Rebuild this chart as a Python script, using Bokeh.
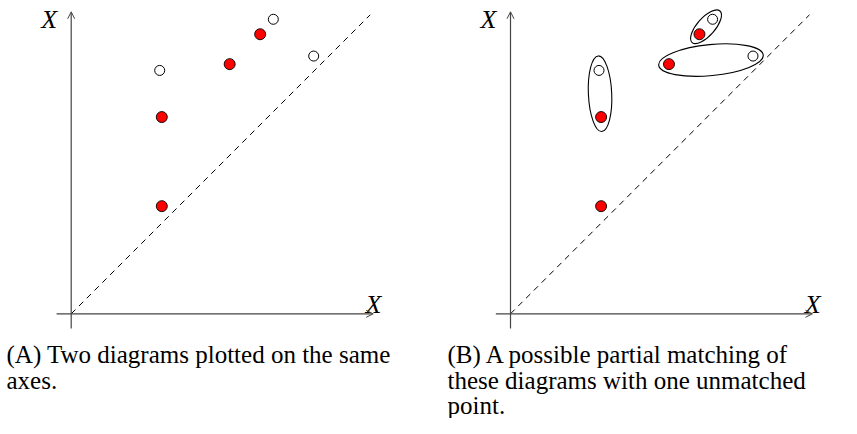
import math
from bokeh.plotting import figure
from bokeh.layouts import row
from bokeh.models import Arrow, OpenHead
from bokeh.core.properties import value
from bokeh.embed import file_html
from bokeh.resources import INLINE

# ---------------- data ----------------
red_x = [3.03, 3.03, 5.30, 6.32]
red_y = [6.58, 3.60, 8.35, 9.35]
open_x = [2.96, 6.76, 8.11]
open_y = [8.14, 9.85, 8.62]
diag_x = [0, 10]
diag_y = [0, 10]
match_red = [0, 2, 3]
match_open = [0, 2, 1]
axis_label = "X"
caption_a = ["(A) Two diagrams plotted on the same", "axes."]
caption_b = ["(B) A possible partial matching of",
             "these diagrams with one unmatched",
             "point."]

# ---------------- styles / layout ----------------
PX = 29.9            # pixels per data unit
H = 418
OY = 313.3           # pixel row of the x axis
Y0 = (OY - H) / PX
Y1 = OY / PX
AX_LO = -0.49
AX_HI = 10.1
ellipse_pad = [0.97, 0.69, 0.74]
ellipse_minor = [0.78, 1.04, 0.60]
AXIS_COLOR = "#444444"
SERIF = value("Liberation Serif")
CAP_Y = [(OY - 354) / PX, (OY - 380) / PX, (OY - 405) / PX]


def panel(origin_px, left_px, right_px, cap_left_px, caption, matched):
    p = figure(width=int(round(right_px - left_px)), height=H,
               x_range=((left_px - origin_px) / PX, (right_px - origin_px) / PX),
               y_range=(Y0, Y1),
               output_backend="svg", toolbar_location=None,
               x_axis_location=None, y_axis_location=None,
               min_border=0, outline_line_color=None)
    p.grid.grid_line_color = None

    # axes with arrows
    p.add_layout(Arrow(end=OpenHead(size=7, line_width=1, line_color=AXIS_COLOR),
                       x_start=AX_LO, y_start=0, x_end=AX_HI, y_end=0,
                       line_color=AXIS_COLOR, line_width=1.2))
    p.add_layout(Arrow(end=OpenHead(size=7, line_width=1, line_color=AXIS_COLOR),
                       x_start=0, y_start=AX_LO, x_end=0, y_end=AX_HI,
                       line_color=AXIS_COLOR, line_width=1.2))

    # diagonal
    p.line(diag_x, diag_y, line_color="black", line_width=1, line_dash="6 5")

    # matching ellipses
    if matched:
        cx, cy, w, h, ang = [], [], [], [], []
        for k, (i, j) in enumerate(zip(match_red, match_open)):
            dx = open_x[j] - red_x[i]
            dy = open_y[j] - red_y[i]
            cx.append((open_x[j] + red_x[i]) / 2)
            cy.append((open_y[j] + red_y[i]) / 2)
            w.append(math.hypot(dx, dy) + ellipse_pad[k])
            h.append(ellipse_minor[k])
            ang.append(math.atan2(dy, dx))
        p.ellipse(x=cx, y=cy, width=w, height=h, angle=ang,
                  fill_color=None, line_color="black", line_width=1.1)

    # points
    p.scatter(open_x, open_y, size=10, fill_color="white",
              line_color="black", line_width=1)
    p.scatter(red_x, red_y, size=11, fill_color="#ff0000",
              line_color="black", line_width=0.9)

    # axis labels
    p.text(x=[-0.74, 10.11], y=[(OY - 19) / PX, (OY - 304) / PX],
           text=[axis_label, axis_label], text_font=SERIF,
           text_font_style="italic", text_font_size="26px",
           text_align="center", text_baseline="alphabetic", text_color="black")

    # caption
    cx0 = (cap_left_px - origin_px) / PX
    p.text(x=[cx0] * len(caption), y=CAP_Y[:len(caption)], text=caption,
           text_font=SERIF, text_font_size="25px", text_align="left",
           text_baseline="alphabetic", text_color="black")
    return p


pa = panel(70.7, 0, 430, 6, caption_a, False)
pb = panel(510, 430, 841, 447, caption_b, True)
layout = row(pa, pb, spacing=0)

open("out.html", "w").write(file_html(layout, INLINE))
